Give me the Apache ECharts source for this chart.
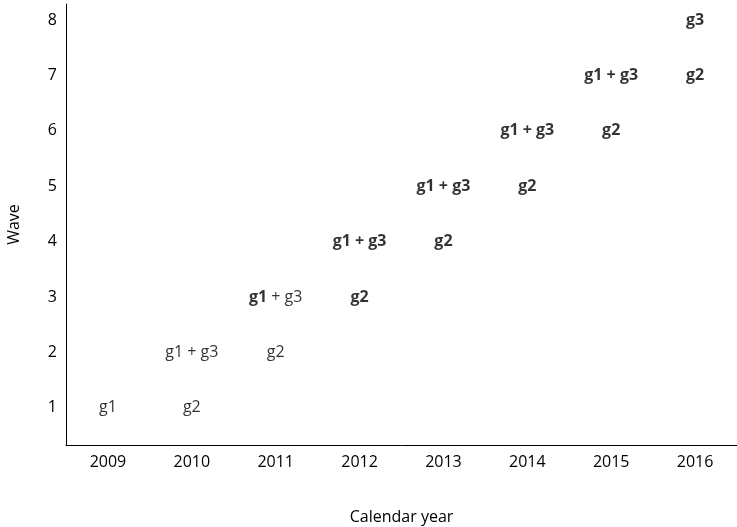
<!DOCTYPE html>
<html>
<head>
<meta charset="utf-8">
<script src="https://cdn.jsdelivr.net/npm/echarts@6/dist/echarts.min.js"></script>
<style>
  html, body { margin: 0; padding: 0; background: #fff; }
  #chart { width: 737px; height: 527px; }
</style>
</head>
<body>
<div id="chart"></div>
<script>
const years = ['2009', '2010', '2011', '2012', '2013', '2014', '2015', '2016']
const waveTicks = [1, 2, 3, 4, 5, 6, 7, 8]

// one entry per text mark in the plot
const markYears = ['2009', '2010', '2010', '2011', '2011', '2012', '2012', '2013', '2013', '2014', '2014', '2015', '2015', '2016', '2016']
const markWaves = [1, 1, 2, 2, 3, 3, 4, 4, 5, 5, 6, 6, 7, 7, 8]
const markTexts = ['g1', 'g2', 'g1 + g3', 'g2', 'g1 + g3', 'g2', 'g1 + g3', 'g2', 'g1 + g3', 'g2', 'g1 + g3', 'g2', 'g1 + g3', 'g2', 'g3']
// n = normal, b = bold, mix = bold g1 with normal "+ g3"
const markWeights = ['n', 'n', 'n', 'n', 'mix', 'b', 'b', 'b', 'b', 'b', 'b', 'b', 'b', 'b', 'b']

const FONT = '"Open Sans", Lato, sans-serif'
const chart = echarts.init(document.getElementById('chart'))

const richText = (text, weight) => {
  if (weight === 'mix') {
    const [first, ...rest] = text.split(' ')
    return '{b|' + first + '}{n| ' + rest.join(' ') + '}'
  }
  return '{' + weight + '|' + text + '}'
}

const points = markYears.map((y, i) => ({
  value: [y, markWaves[i]],
  label: { formatter: richText(markTexts[i], markWeights[i]) }
}))

chart.setOption({
  animation: false,
  textStyle: { fontFamily: FONT },
  grid: { left: 66, right: 0, top: 4, bottom: 82, outerBoundsMode: 'none', containLabel: false },
  xAxis: {
    type: 'category',
    data: years,
    name: 'Calendar year',
    nameLocation: 'middle',
    nameGap: 64,
    nameTextStyle: { fontSize: 16, color: '#000', fontFamily: FONT },
    axisLine: { onZero: false, lineStyle: { color: '#000', width: 1 } },
    axisTick: { show: false },
    axisLabel: { fontSize: 16, color: '#000', margin: 9, fontFamily: FONT },
    splitLine: { show: false }
  },
  yAxis: {
    type: 'value',
    min: 0.33,
    max: 8.29,
    name: 'Wave',
    nameLocation: 'middle',
    nameGap: 44,
    nameTextStyle: { fontSize: 16, color: '#000', fontFamily: FONT },
    axisLine: { show: true, lineStyle: { color: '#000', width: 1 } },
    axisTick: { show: false },
    axisLabel: { customValues: waveTicks, fontSize: 16, color: '#000', margin: 9, fontFamily: FONT },
    splitLine: { show: false }
  },
  series: [{
    type: 'scatter',
    symbolSize: 0,
    data: points,
    label: {
      show: true,
      position: 'inside',
      color: '#000',
      rich: {
        n: { fontSize: 16, fontWeight: 'normal', color: '#000', fontFamily: FONT },
        b: { fontSize: 16, fontWeight: 'bold', color: '#000', fontFamily: FONT }
      }
    }
  }]
})
</script>
</body>
</html>
